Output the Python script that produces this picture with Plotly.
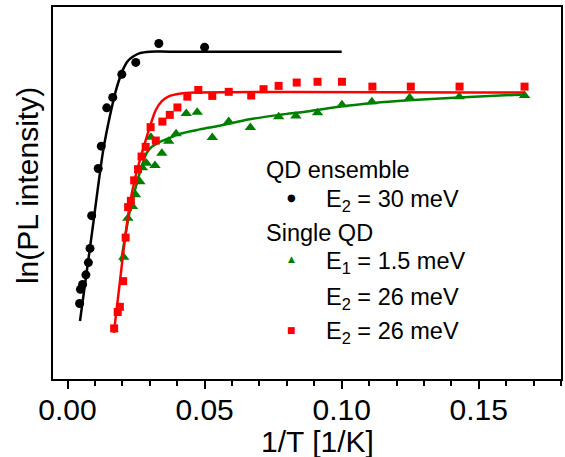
import plotly.graph_objects as go

# --- QD ensemble: 1/T [1/K] and ln(PL intensity) (arb. offset) ---
ens_x = [0.0044, 0.0047, 0.0055, 0.0067, 0.0076, 0.0082, 0.0088, 0.0112,
         0.0123, 0.0143, 0.0165, 0.0198, 0.0249, 0.0333, 0.0500]
ens_y = [2.03, 2.41, 2.54, 2.80, 3.13, 3.51, 4.39, 5.66,
         6.26, 7.29, 7.57, 8.19, 8.51, 9.02, 8.92]

# fit curve for the ensemble (E2 = 30 meV)
ens_fit_x = [0.00455, 0.00891, 0.01291, 0.01545, 0.01789, 0.02018, 0.0220,
             0.02393, 0.02636, 0.0300, 0.0373, 0.1000]
ens_fit_y = [1.56, 3.92, 6.10, 7.07, 7.82, 8.31, 8.55,
             8.67, 8.76, 8.80, 8.80, 8.80]

# --- single QD, one activation channel (E2 = 26 meV) ---
red_x = [0.0170, 0.0183, 0.0191, 0.0203, 0.0212, 0.0221, 0.0231, 0.0243,
         0.0257, 0.0270, 0.0285, 0.0303, 0.0322, 0.0346, 0.0373, 0.0401,
         0.0437, 0.0477, 0.0528, 0.0588, 0.0670, 0.0715, 0.0770, 0.0836,
         0.0912, 0.1001, 0.1112, 0.1252, 0.1430, 0.1667]
red_y = [1.36, 1.80, 1.94, 2.63, 3.80, 4.62, 4.79, 5.34,
         5.64, 5.98, 6.24, 6.77, 6.41, 6.92, 7.10, 7.30,
         7.59, 7.77, 7.61, 7.72, 7.62, 7.79, 7.88, 7.97,
         7.99, 7.99, 7.86, 7.86, 7.86, 7.86]

red_fit_x = [0.0169, 0.0191, 0.0209, 0.0227, 0.0244, 0.0260, 0.0278, 0.0300,
             0.0322, 0.0344, 0.0373, 0.0409, 0.0464, 0.1667]
red_fit_y = [1.24, 2.61, 3.74, 4.68, 5.32, 5.78, 6.24, 6.77,
             7.23, 7.47, 7.61, 7.67, 7.70, 7.70]

# --- single QD, two activation channels (E1 = 1.5 meV, E2 = 26 meV) ---
grn_x = [0.0205, 0.0220, 0.0237, 0.0248, 0.0264, 0.0273, 0.0288, 0.0304,
         0.0319, 0.0344, 0.0369, 0.0396, 0.0433, 0.0473, 0.0528, 0.0588,
         0.0667, 0.0770, 0.0833, 0.0912, 0.1001, 0.1110, 0.1248, 0.1429,
         0.1667]
grn_y = [3.27, 4.32, 4.64, 4.95, 5.30, 5.68, 5.80, 6.50,
         5.74, 6.07, 6.39, 6.59, 7.14, 7.17, 6.49, 6.92,
         6.76, 7.05, 7.07, 7.16, 7.37, 7.45, 7.56, 7.59,
         7.62]

grn_fit_x = [0.0195, 0.0213, 0.0231, 0.0249, 0.0271, 0.0289, 0.0307, 0.0336,
             0.0373, 0.0409, 0.0482, 0.0555, 0.0664, 0.0773, 0.0882, 0.1002,
             0.1118, 0.1245, 0.1427, 0.1667]
grn_fit_y = [3.15, 3.95, 4.65, 5.16, 5.73, 6.08, 6.24, 6.37,
             6.48, 6.59, 6.71, 6.81, 6.98, 7.10, 7.20, 7.33,
             7.42, 7.49, 7.57, 7.65]

x_tick_vals = [0.00, 0.05, 0.10, 0.15]
x_tick_text = ["0.00", "0.05", "0.10", "0.15"]

FONT = "Arial, 'Liberation Sans', sans-serif"
BLACK, RED, GREEN = "#000000", "#ff0000", "#008000"

fig = go.Figure()

# ensemble
fig.add_trace(go.Scatter(x=ens_x, y=ens_y, mode="markers",
                         marker=dict(symbol="circle", size=9, color=BLACK)))
fig.add_trace(go.Scatter(x=ens_fit_x, y=ens_fit_y, mode="lines",
                         line=dict(color=BLACK, width=2.5, shape="spline", smoothing=0.8)))

# single QD (two channels)
fig.add_trace(go.Scatter(x=grn_x, y=grn_y, mode="markers",
                         marker=dict(symbol="triangle-up", size=10, color=GREEN)))
fig.add_trace(go.Scatter(x=grn_fit_x, y=grn_fit_y, mode="lines",
                         line=dict(color=GREEN, width=2.5, shape="spline", smoothing=0.8)))

# single QD (one channel)
fig.add_trace(go.Scatter(x=red_x, y=red_y, mode="markers",
                         marker=dict(symbol="square", size=8, color=RED)))
fig.add_trace(go.Scatter(x=red_fit_x, y=red_fit_y, mode="lines",
                         line=dict(color=RED, width=2.5, shape="spline", smoothing=0.8)))

# key drawn as text inside the plot area
def px_x(p):
    return (p - 53) / 510.0

def px_y(p):
    return (379 - p) / 372.0

key_font = dict(family=FONT, size=23.5, color=BLACK)
annotations = [
    dict(x=px_x(265), y=px_y(170), text="QD ensemble"),
    dict(x=px_x(325), y=px_y(200), text="E<sub>2</sub> = 30 meV"),
    dict(x=px_x(265), y=px_y(233), text="Single QD"),
    dict(x=px_x(325), y=px_y(262), text="E<sub>1</sub> = 1.5 meV"),
    dict(x=px_x(325), y=px_y(298), text="E<sub>2</sub> = 26 meV"),
    dict(x=px_x(325), y=px_y(332), text="E<sub>2</sub> = 26 meV"),
]
annotations = [dict(a, xref="paper", yref="paper", xanchor="left", yanchor="middle",
                    showarrow=False, font=key_font) for a in annotations]

# key symbols
for sym, col, yy, sz in [("\u25cf", BLACK, 197, 10), ("\u25b2", GREEN, 259, 9),
                         ("\u25a0", RED, 330, 9)]:
    annotations.append(dict(x=px_x(292), y=px_y(yy), xref="paper", yref="paper",
                            xanchor="center", yanchor="middle", showarrow=False,
                            text=sym, font=dict(family="DejaVu Sans", size=sz, color=col)))

# axis titles
annotations.append(dict(x=px_x(319), y=px_y(441), xref="paper", yref="paper",
                        xanchor="center", yanchor="middle", showarrow=False,
                        text="1/T [1/K]", font=dict(family=FONT, size=30, color=BLACK)))
annotations.append(dict(x=px_x(27), y=px_y(186), xref="paper", yref="paper",
                        xanchor="center", yanchor="middle", showarrow=False, textangle=-90,
                        text="ln(PL intensity)", font=dict(family=FONT, size=30, color=BLACK)))

fig.update_layout(
    width=565, height=457,
    margin=dict(l=53, r=2, t=7, b=78),
    paper_bgcolor="white", plot_bgcolor="white",
    showlegend=False,
    font=dict(family=FONT, color=BLACK),
    annotations=annotations,
    xaxis=dict(range=[-0.0053, 0.18], showline=True, linecolor=BLACK, linewidth=2,
               mirror=True, showgrid=False, zeroline=False,
               ticks="outside", ticklen=8, tickwidth=1.5, tickcolor=BLACK,
               tickvals=x_tick_vals, ticktext=x_tick_text,
               ticklabelstandoff=-5,
               tickfont=dict(family=FONT, size=30, color=BLACK),
               minor=dict(dtick=0.01, tick0=0, ticks="outside", ticklen=5,
                          tickwidth=1.5, tickcolor=BLACK, showgrid=False)),
    yaxis=dict(range=[0, 10], showline=True, linecolor=BLACK, linewidth=2,
               mirror=True, showgrid=False, zeroline=False,
               ticks="", showticklabels=False),
)

fig.write_html("out.html")
